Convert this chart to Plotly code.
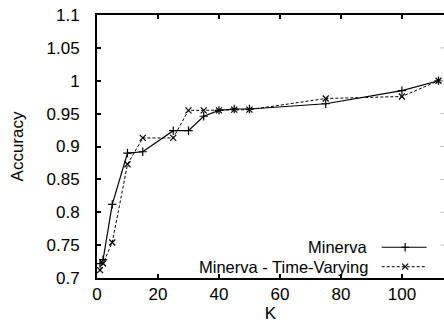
import plotly.graph_objects as go

K_MIN = [1, 2, 5, 10, 15, 25, 30, 35, 40, 45, 50, 75, 100, 112]
ACC_MIN = [0.722, 0.728, 0.812, 0.890, 0.892, 0.924, 0.924, 0.946, 0.955, 0.957, 0.957, 0.965, 0.985, 1.0]
K_TV = [1, 2, 5, 10, 15, 25, 30, 35, 40, 45, 50, 75, 100, 112]
ACC_TV = [0.712, 0.722, 0.754, 0.873, 0.913, 0.913, 0.955, 0.955, 0.955, 0.956, 0.956, 0.973, 0.976, 1.0]
X_TICKS = [0, 20, 40, 60, 80, 100]
Y_TICKS = [0.7, 0.75, 0.8, 0.85, 0.9, 0.95, 1.0, 1.05, 1.1]
Y_TICK_TEXT = ["0.7", "0.75", "0.8", "0.85", "0.9", "0.95", "1", "1.05", "1.1"]
NAMES = ["Minerva", "Minerva - Time-Varying"]

FONT = "Liberation Sans, Arial, Helvetica, sans-serif"
fig = go.Figure()
fig.add_trace(go.Scatter(x=K_MIN, y=ACC_MIN, mode="lines+markers",
                         line=dict(color="black", width=1.2),
                         marker=dict(symbol="cross-thin", size=6, color="black",
                                     line=dict(color="black", width=1.2)),
                         showlegend=False))
fig.add_trace(go.Scatter(x=K_TV, y=ACC_TV, mode="lines+markers",
                         line=dict(color="black", width=1, dash="3px,2px"),
                         marker=dict(symbol="x-thin", size=6, color="black",
                                     line=dict(color="black", width=1.2)),
                         showlegend=False))

# legend samples (gnuplot style: text left, sample right)
rows = [0.117, 0.043]
styles = [(dict(color="black", width=1.2), "cross-thin"),
          (dict(color="black", width=1, dash="3px,2px"), "x-thin")]
for name, ry, (ln, sym) in zip(NAMES, rows, styles):
    fig.add_trace(go.Scatter(x=[0.8205, 0.888, 0.950], y=[ry, ry, ry], mode="lines",
                             line=ln, xaxis="x2", yaxis="y2", showlegend=False,
                             hoverinfo="skip"))
    fig.add_trace(go.Scatter(x=[0.888], y=[ry], mode="markers",
                             marker=dict(symbol=sym, size=6, color="black",
                                         line=dict(color="black", width=1.2)),
                             xaxis="x2", yaxis="y2", showlegend=False, hoverinfo="skip"))
    fig.add_annotation(text=name, xref="paper", yref="paper", x=0.787, y=ry,
                       xanchor="right", yanchor="middle", showarrow=False,
                       font=dict(family=FONT, size=16.5, color="black"))

# faint right-side ticks (border itself lies just beyond the crop)
for yv in Y_TICKS[1:-1]:
    fig.add_shape(type="line", xref="paper", yref="y", x0=0.99, x1=1.0, y0=yv, y1=yv,
                  line=dict(color="#bbbbbb", width=1))

fig.update_layout(
    width=444, height=329,
    margin=dict(l=97, r=0, t=15, b=51),
    paper_bgcolor="white", plot_bgcolor="white",
    font=dict(family=FONT, size=17, color="black"),
    xaxis=dict(range=[0, 113.8], tickvals=X_TICKS, ticks="inside", ticklen=4,
               tickwidth=1.5, tickcolor="black", showgrid=False, zeroline=False,
               showline=True, linecolor="black", linewidth=2, mirror="ticks",
               title=dict(text="K", font=dict(size=17), standoff=4),
               tickfont=dict(size=17)),
    yaxis=dict(range=[0.7, 1.1], tickvals=Y_TICKS, ticktext=Y_TICK_TEXT, ticks="inside",
               ticklen=4, tickwidth=1.5, tickcolor="black", showgrid=False,
               zeroline=False, showline=True, linecolor="black", linewidth=2,
               ticklabelstandoff=12,
               title=dict(text="Accuracy", font=dict(size=17), standoff=19),
               tickfont=dict(size=17)),
    xaxis2=dict(overlaying="x", range=[0, 1], visible=False),
    yaxis2=dict(overlaying="y", range=[0, 1], visible=False),
)

fig.write_html("out.html")
